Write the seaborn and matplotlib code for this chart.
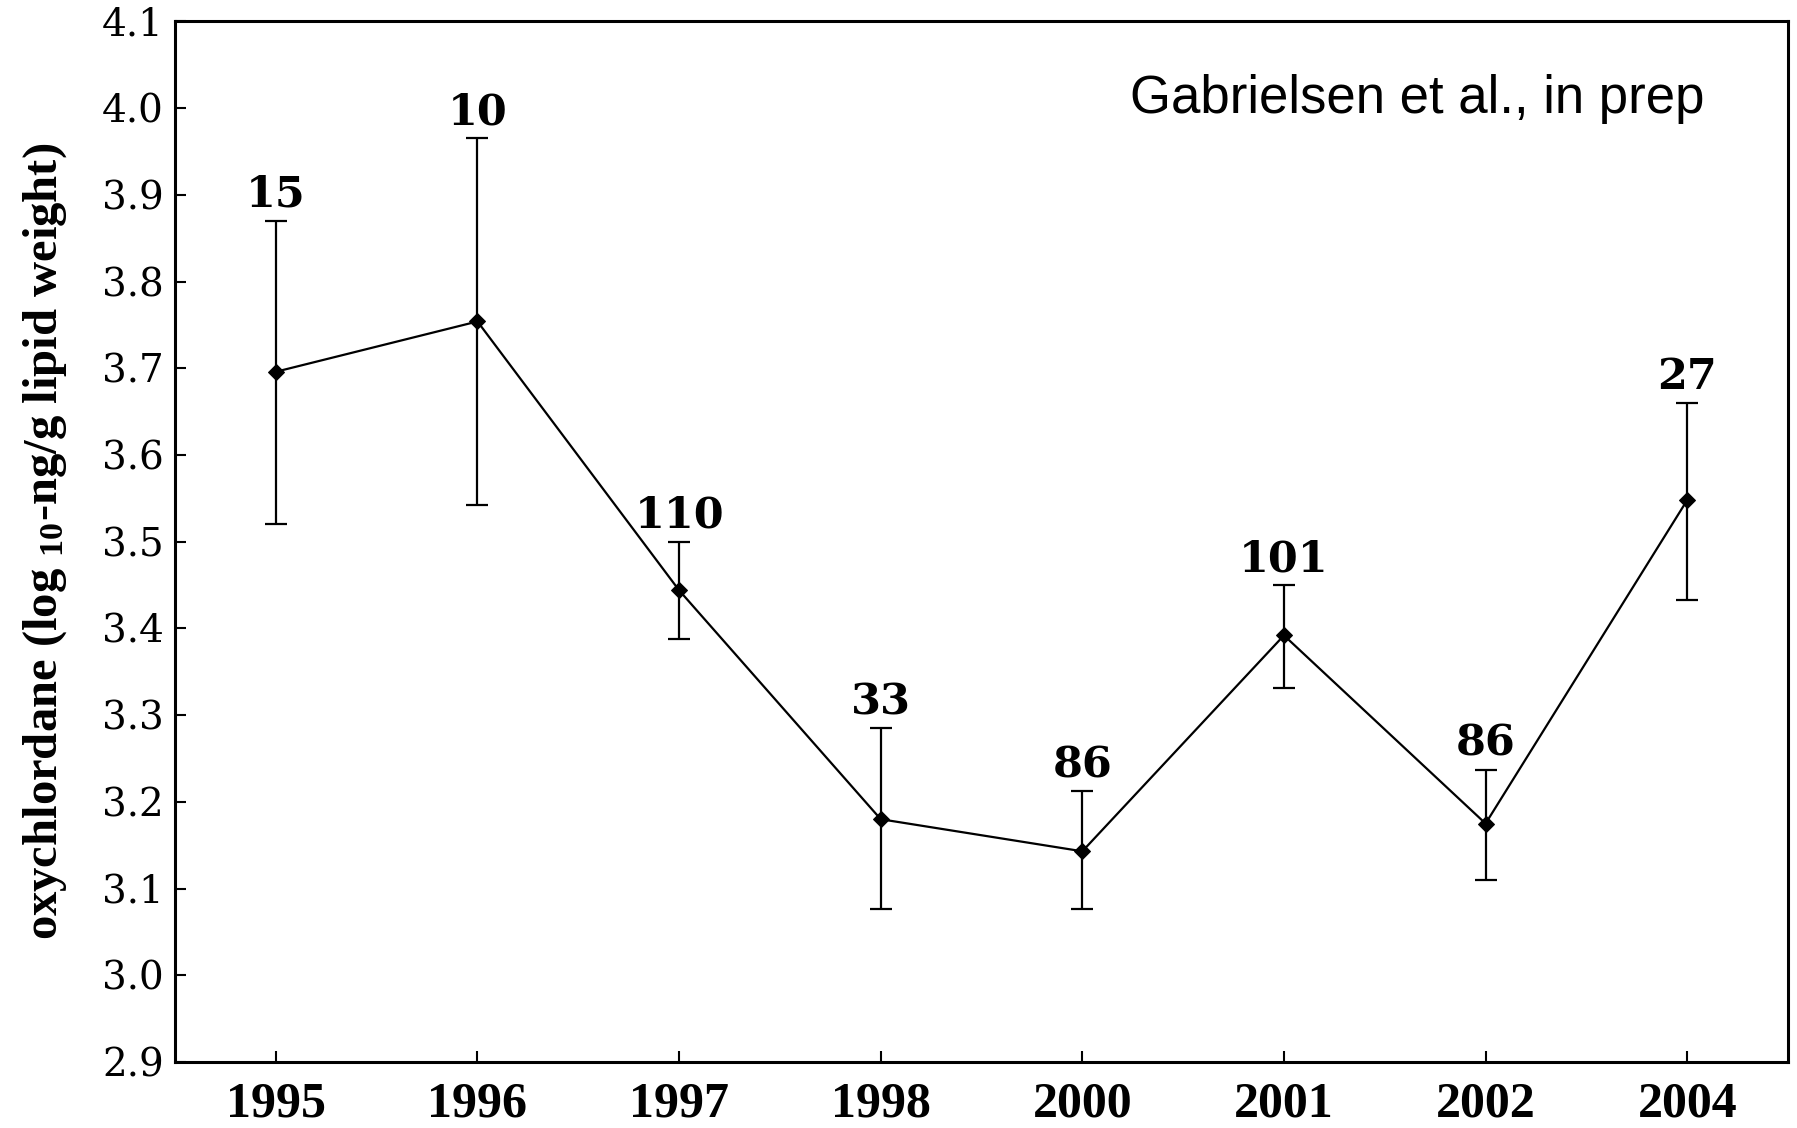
import numpy as np
import matplotlib
matplotlib.use("Agg")
import matplotlib.pyplot as plt
import seaborn as sns

years = ["1995", "1996", "1997", "1998", "2000", "2001", "2002", "2004"]
means = [3.696, 3.754, 3.444, 3.180, 3.143, 3.392, 3.175, 3.548]
upper = [3.870, 3.965, 3.500, 3.285, 3.212, 3.450, 3.237, 3.660]
lower = [3.521, 3.542, 3.388, 3.077, 3.077, 3.331, 3.110, 3.433]
counts = ["15", "10", "110", "33", "86", "101", "86", "27"]
yticks = [2.9, 3.0, 3.1, 3.2, 3.3, 3.4, 3.5, 3.6, 3.7, 3.8, 3.9, 4.0, 4.1]

sns.set_theme(style="ticks")
plt.rcParams["font.family"] = ["Liberation Serif", "DejaVu Serif"]
plt.rcParams["mathtext.fontset"] = "custom"
plt.rcParams["mathtext.rm"] = "Liberation Serif:bold"
plt.rcParams["mathtext.it"] = "Liberation Serif:bold"
plt.rcParams["mathtext.bf"] = "Liberation Serif:bold"
for k in ["text.color", "axes.labelcolor", "xtick.color", "ytick.color", "axes.edgecolor"]:
    plt.rcParams[k] = "black"

fig = plt.figure(figsize=(17.97, 11.28), dpi=100)
ax = fig.add_axes([0.0974, 0.0585, 0.8976, 0.9225])

pos = np.arange(len(years))
m = np.array(means)
yerr = np.vstack([m - np.array(lower), np.array(upper) - m])

ax.errorbar(pos, m, yerr=yerr, fmt="none", ecolor="black", elinewidth=1.6,
            capsize=8, capthick=1.6, zorder=2)
sns.lineplot(x=pos, y=m, ax=ax, color="black", linewidth=1.6, marker="D",
             markersize=8, markeredgecolor="black", markerfacecolor="black",
             zorder=3)

for x, u, c in zip(pos, upper, counts):
    ax.annotate(c, (x, u), xytext=(0, 10), textcoords="offset points",
                ha="center", va="baseline", fontsize=31, fontweight="bold",
                family="DejaVu Serif", color="black")

ax.set_xlim(-0.5, len(years) - 0.5)
ax.set_ylim(2.9, 4.1)
ax.set_xticks(pos)
ax.set_xticklabels(years, fontsize=36, fontweight="bold", family="Liberation Serif")
ax.set_yticks(yticks)
ax.set_yticklabels([f"{v:.1f}" for v in yticks], fontsize=28, family="DejaVu Serif")
ax.tick_params(axis="both", direction="in", length=8, width=1.5, color="black",
               labelcolor="black")
ax.tick_params(axis="x", pad=14)
ax.tick_params(axis="y", pad=8)
for s in ax.spines.values():
    s.set_visible(True)
    s.set_linewidth(2.2)
    s.set_color("black")

ax.set_ylabel("oxychlordane (log $_{10}$-ng/g lipid weight)", fontsize=35,
              fontweight="bold", family="Liberation Serif", labelpad=24)
ax.set_xlabel("")

ax.text(0.948, 0.925, "Gabrielsen et al., in prep", transform=ax.transAxes,
        ha="right", va="center", fontsize=38, family="Liberation Sans",
        color="black")

fig.savefig("out.png", dpi=100)
